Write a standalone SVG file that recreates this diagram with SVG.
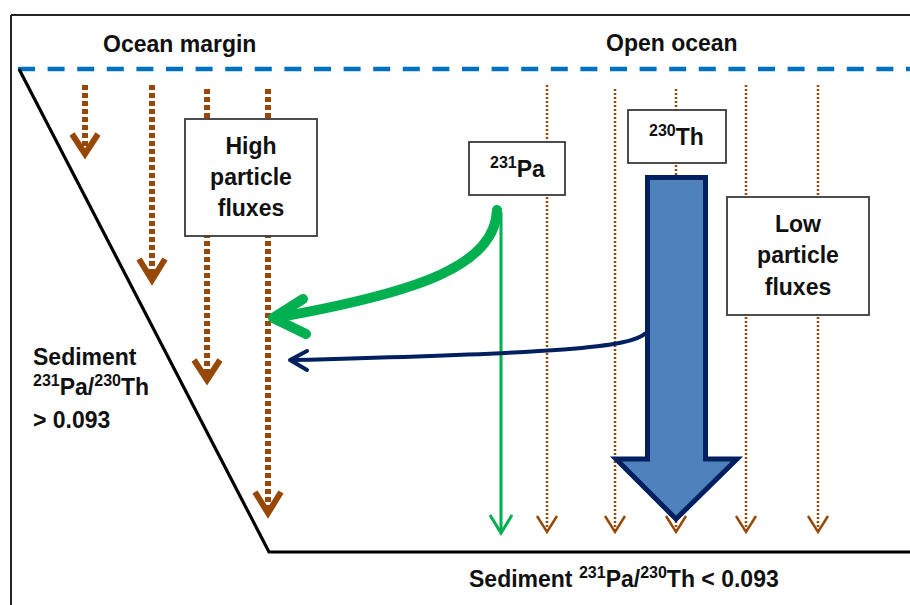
<svg xmlns="http://www.w3.org/2000/svg" width="910" height="605" viewBox="0 0 910 605">
  <style>
    .lbl { font-family: "Liberation Sans", Arial, sans-serif; font-weight: bold; font-size: 23px; fill: #111; }
    .sup { font-size: 16px; }
    .box { fill: #fff; stroke: #3a3a3a; stroke-width: 1.8; }
    .flux-hi { stroke: #974806; stroke-width: 6; stroke-dasharray: 5 3; fill: none; }
    .head-hi { stroke: #974806; stroke-width: 6; fill: none; stroke-linecap: butt; stroke-linejoin: miter; }
    .flux-lo { stroke: #974806; stroke-width: 2.5; stroke-dasharray: 2 2; fill: none; }
    .head-lo { stroke: #974806; stroke-width: 2.5; fill: none; stroke-linejoin: miter; }
  </style>

  <!-- frame -->
  <g id="frame" stroke="#222" stroke-width="2" fill="none">
    <line x1="11" y1="15" x2="910" y2="15"/>
    <line x1="11" y1="15" x2="11" y2="605"/>
  </g>

  <!-- sea surface -->
  <line id="surface" x1="18" y1="69" x2="910" y2="69" stroke="#0070C0" stroke-width="4.3" stroke-dasharray="17 12.6"/>

  <!-- sea floor: slope and abyssal plain -->
  <polyline id="seafloor" points="19,69 269,552 910,552" fill="none" stroke="#000" stroke-width="3.2" stroke-linejoin="miter"/>

  <!-- region titles -->
  <text class="lbl" x="103" y="52">Ocean margin</text>
  <text class="lbl" x="606" y="51">Open ocean</text>

  <!-- particle flux arrows -->
  <g id="connectors">
    <!-- margin: high fluxes -->
    <line class="flux-hi" x1="85" y1="85" x2="85" y2="148"/>
    <polyline class="head-hi" points="72,134 85,154 98,134"/>
    <line class="flux-hi" x1="152" y1="85" x2="152" y2="274"/>
    <polyline class="head-hi" points="139,259 152,280 165,259"/>
    <line class="flux-hi" x1="207" y1="89" x2="207" y2="374"/>
    <polyline class="head-hi" points="194,360 207,380 220,360"/>
    <line class="flux-hi" x1="268" y1="89" x2="268" y2="508"/>
    <polyline class="head-hi" points="255,492 268,513 281,492"/>

    <!-- open ocean: low fluxes -->
    <line class="flux-lo" x1="547" y1="85" x2="547" y2="530"/>
    <polyline class="head-lo" points="537,516 547,532 557,516"/>
    <line class="flux-lo" x1="615" y1="89" x2="615" y2="530"/>
    <polyline class="head-lo" points="605,516 615,532 625,516"/>
    <line class="flux-lo" x1="676" y1="89" x2="676" y2="530"/>
    <polyline class="head-lo" points="666,516 676,532 686,516"/>
    <line class="flux-lo" x1="746" y1="85" x2="746" y2="530"/>
    <polyline class="head-lo" points="736,516 746,532 756,516"/>
    <line class="flux-lo" x1="818" y1="85" x2="818" y2="530"/>
    <polyline class="head-lo" points="808,516 818,532 828,516"/>
  </g>

  <!-- labelled boxes -->
  <g id="high-flux">
    <rect class="box" x="185" y="119" width="132" height="117"/>
    <text class="lbl" x="251" y="154" text-anchor="middle">High</text>
    <text class="lbl" x="251" y="185" text-anchor="middle">particle</text>
    <text class="lbl" x="251" y="216" text-anchor="middle">fluxes</text>
  </g>

  <g id="low-flux">
    <rect class="box" x="727" y="197" width="142" height="118"/>
    <text class="lbl" x="798" y="232" text-anchor="middle">Low</text>
    <text class="lbl" x="798" y="263" text-anchor="middle">particle</text>
    <text class="lbl" x="798" y="295" text-anchor="middle">fluxes</text>
  </g>

  <g id="pa231">
    <rect class="box" x="469" y="142" width="96" height="53"/>
    <text class="lbl" x="490" y="177"><tspan class="sup" dy="-9">231</tspan><tspan dy="9">Pa</tspan></text>
  </g>

  <g id="th230">
    <rect class="box" x="628" y="110" width="98" height="53"/>
    <text class="lbl" x="649" y="145"><tspan class="sup" dy="-9">230</tspan><tspan dy="9">Th</tspan></text>
  </g>

  <!-- 230Th: large vertical flux -->
  <g id="th-flux">
    <polygon points="647.5,177.5 705.5,177.5 705.5,459 737,459 676,519 616,459 647.5,459" fill="#4F81BD" stroke="#002060" stroke-width="5" stroke-linejoin="miter"/>
  </g>

  <!-- transport arrows -->
  <g id="transport">
    <!-- 231Pa: vertical removal in open ocean -->
    <line x1="501" y1="212" x2="501" y2="532" stroke="#00B050" stroke-width="3"/>
    <polyline points="490,515 501,533 512,515" fill="none" stroke="#00B050" stroke-width="3"/>
    <!-- 231Pa: strong lateral export to margin -->
    <path d="M497,210 C495,265 420,292 280,317" fill="none" stroke="#00B050" stroke-width="10" stroke-linecap="round"/>
    <polyline points="303,299 273,318 306,334" fill="none" stroke="#00B050" stroke-width="10" stroke-linecap="round" stroke-linejoin="round"/>
    <!-- 230Th: weak lateral export -->
    <path d="M646,333 C630,348 560,353 292,360" fill="none" stroke="#002060" stroke-width="4"/>
    <polyline points="307,351 290,360 307,370" fill="none" stroke="#002060" stroke-width="4" stroke-linecap="round" stroke-linejoin="round"/>
  </g>

  <!-- sediment ratios -->
  <g id="sediment-margin">
    <text class="lbl" x="33" y="365">Sediment</text>
    <text class="lbl" x="33" y="395"><tspan class="sup" dy="-9">231</tspan><tspan dy="9">Pa/</tspan><tspan class="sup" dy="-9">230</tspan><tspan dy="9">Th</tspan></text>
    <text class="lbl" x="33" y="428">&gt; 0.093</text>
  </g>

  <g id="sediment-open">
    <text class="lbl" x="469" y="587">Sediment <tspan class="sup" dy="-9">231</tspan><tspan dy="9">Pa/</tspan><tspan class="sup" dy="-9">230</tspan><tspan dy="9">Th &lt; 0.093</tspan></text>
  </g>
</svg>
